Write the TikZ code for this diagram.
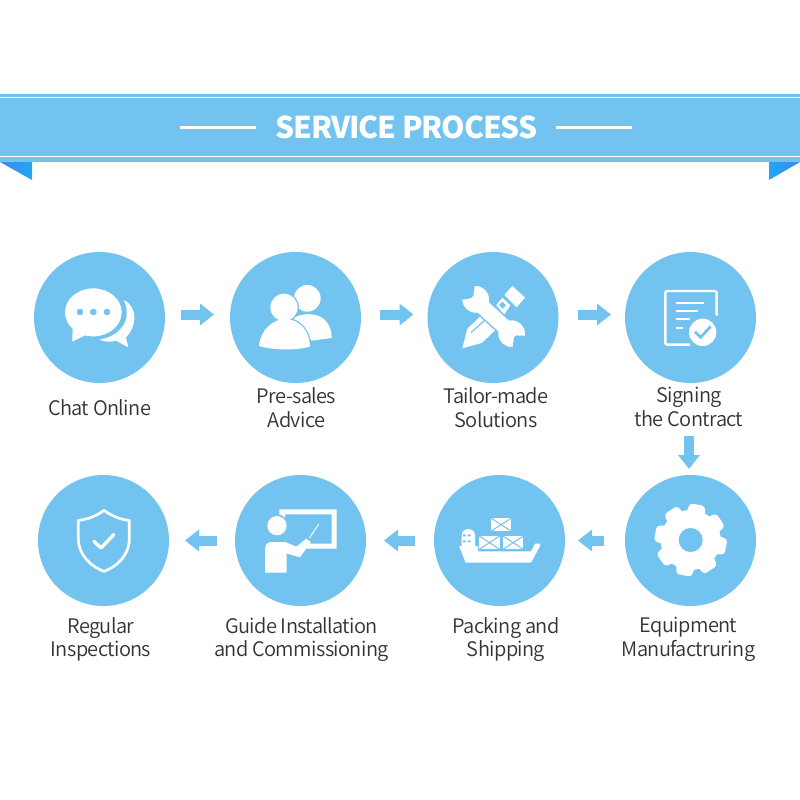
\documentclass[tikz,border=0pt]{standalone}
\usepackage{fontspec}
\setmainfont[LetterSpace=-3.8]{Noto Sans CJK SC}
\newfontfamily\lightface[LetterSpace=-3]{Noto Sans CJK SC DemiLight}
\usetikzlibrary{arrows.meta}
\definecolor{sky}{HTML}{72C3EF}
\definecolor{ink}{HTML}{333333}
\definecolor{ribbonA}{HTML}{3F86EE}
\definecolor{ribbonB}{HTML}{1FA8F5}
\tikzset{
  disc/.style={circle,fill=sky,minimum size=131pt,inner sep=0pt,outer sep=0pt},
  lab/.style={align=center,text=ink,inner sep=0pt,font=\lightface\fontsize{20}{23.5}\selectfont},
  flow/.style={draw=sky,line width=10pt,-{Triangle[length=14pt,width=21pt]}},
  zA/.style={shift={(30,250)},x=0.33333pt,y=-0.33333pt},
  zB/.style={shift={(425,250)},x=0.33333pt,y=-0.33333pt},
  zC/.style={shift={(30,472)},x=0.33333pt,y=-0.33333pt},
  zD/.style={shift={(425,472)},x=0.33333pt,y=-0.33333pt},
}
\begin{document}
\begin{tikzpicture}[x=1pt,y=-1pt]
\useasboundingbox (0,0) rectangle (800,800);
\fill[white] (0,0) rectangle (800,800);
% banner
\fill[sky] (0,94) rectangle (800,162);
\fill[white] (0,97) rectangle (800,98);
\fill[white] (0,156) rectangle (800,157);
\shade[left color=ribbonA,right color=ribbonB] (0,162) -- (32,162) -- (32,180) -- cycle;
\shade[right color=ribbonA,left color=ribbonB] (800,162) -- (769,162) -- (769,180) -- cycle;
\node[text=white,inner sep=0pt,font=\fontsize{30}{36}\bfseries\selectfont] (title) at (406.5,127) {SERVICE PROCESS};
\fill[white] (180,126) rectangle (256,128.5);
\fill[white] (556,126) rectangle (632,128.5);
% discs
\node[disc] (c1) at (99.5,317.5) {};
\node[disc] (c2) at (295.5,317.5) {};
\node[disc] (c3) at (493,317.5) {};
\node[disc] (c4) at (690.5,317.5) {};
\node[disc] (c5) at (690.5,540.5) {};
\node[disc] (c6) at (499.5,540.5) {};
\node[disc] (c7) at (300.5,540.5) {};
\node[disc] (c8) at (103.5,540.5) {};
% labels
\node[lab] (l1) at (99.5,408) {Chat Online};
\node[lab] (l2) at (296.5,407.5) {Pre-sales\\Advice};
\node[lab] (l3) at (496,407.5) {Tailor-made\\Solutions};
\node[lab] (l4) at (689,407) {Signing\\the Contract};
\node[lab] (l5) at (688.5,639.5) {Equipment\\Manufactruring};
\node[lab] (l6) at (506,639.5) {Packing and\\Shipping};
\node[lab] (l7) at (301.5,639.5) {Guide Installation\\and Commissioning};
\node[lab] (l8) at (101,639.5) {Regular\\Inspections};
% arrows
\draw[flow,shorten <=16pt,shorten >=16pt] ([yshift=3pt]c1.east) -- ([yshift=3pt]c2.west);
\draw[flow,shorten <=19pt,shorten >=14pt] ([yshift=3pt]c2.east) -- ([yshift=3pt]c3.west);
\draw[flow,shorten <=19pt,shorten >=14pt] ([yshift=3pt]c3.east) -- ([yshift=3pt]c4.west);
\draw[flow,shorten <=53pt,shorten >=6pt] ([xshift=-1.5pt]c4.south) -- ([xshift=-1.5pt]c5.north);
\draw[flow,shorten <=21pt,shorten >=13pt] (c5) -- (c6);
\draw[flow,shorten <=19pt,shorten >=18pt] (c6) -- (c7);
\draw[flow,shorten <=18pt,shorten >=16pt] (c7) -- (c8);
% chat icon
\begin{scope}[zA]
\fill[white] (190,187) ellipse [x radius=85,y radius=72];
\fill[white] (128,225) -- (127,275) -- (165,256) -- (195,259) -- cycle;
\fill[sky] (150,186) circle[radius=10] (190,186) circle[radius=10] (231,186) circle[radius=10];
\fill[white] (281,150) .. controls (305,160) and (318,190) .. (312,215) .. controls (308,240) and (295,255) .. (288,262) -- (295,292) -- (258,272) .. controls (240,278) and (222,275) .. (209,268) .. controls (245,265) and (280,240) .. (289,205) .. controls (292,185) and (290,165) .. (281,150) -- cycle;
% people icon
\fill[white] (832,145) circle[radius=40];
\fill[white] (790,205) .. controls (810,190) and (860,185) .. (885,210) .. controls (900,225) and (905,245) .. (905,264) -- (845,272) -- cycle;
\draw[sky,line width=2.6pt] (762,172) circle[radius=41];
\draw[sky,line width=2.6pt] (687,288) .. controls (690,240) and (730,207) .. (765,207) .. controls (810,207) and (840,245) .. (840,292);
\fill[white] (762,172) circle[radius=41];
\fill[white] (687,288) .. controls (690,240) and (730,207) .. (765,207) .. controls (810,207) and (840,245) .. (840,290) .. controls (790,303) and (730,300) .. (687,288) -- cycle;
\end{scope}
% tools icon
\begin{scope}[zB]
\fill[white] (112,295) -- (127,236) -- (170,279) -- cycle;
\fill[white] (127,236) -- (195,172) -- (238,215) -- (170,279) -- cycle;
\draw[sky,line width=1.2pt] (138,248) -- (178,212);
\fill[white] (232,143) -- (256,166) -- (237,195) -- (214,165) -- cycle;
\fill[white] (262,108) -- (300,143) -- (275,172) -- (238,135) -- cycle;
\fill[sky] (222,165) -- (232,155) -- (243,166) -- (233,176) -- cycle;
\draw[sky,line width=18pt] (148,148) -- (262,252);
\fill[sky] (152,148) circle[radius=44] (260,251) circle[radius=44];
\draw[white,line width=15pt] (148,148) -- (262,252);
\fill[white] (152,148) circle[radius=40] (260,251) circle[radius=40];
\fill[sky,rounded corners=2pt] (144,143) -- (150,100) -- (100,100) -- (110,150) -- cycle;
\fill[sky,rounded corners=2pt] (268,256) -- (310,258) -- (312,305) -- (262,298) -- cycle;
% contract icon
\draw[white,line width=2.4pt,rounded corners=2pt] (875,197) -- (875,123) -- (721,123) -- (721,284) -- (795,284);
\draw[white,line width=2pt] (752,158) -- (838,158) (752,183) -- (820,183) (752,208) -- (795,208) (752,233) -- (775,233);
\fill[white] (833,247) circle[radius=41];
\draw[sky,line width=2.7pt] (810,245) -- (827,262) -- (857,229);
\end{scope}
% shield and teacher icons
\begin{scope}[zC]
\draw[white,line width=2.7pt,line join=round] (222,115) .. controls (200,132) and (170,143) .. (145,145) -- (145,200) .. controls (145,250) and (185,285) .. (222,298) .. controls (260,285) and (298,250) .. (298,200) -- (298,145) .. controls (272,143) and (245,132) .. (222,115) -- cycle;
\draw[white,line width=3.4pt,line cap=round,line join=round] (192,208) -- (213,228) -- (251,188);
\fill[white] (748,112) -- (920,112) -- (920,230) -- (830,230) -- (830,215) -- (905,215) -- (905,127) -- (765,127) -- (765,145) -- (748,145) -- cycle;
\fill[sky] (741,161) circle[radius=34];
\fill[white] (741,161) circle[radius=29];
\fill[white] (705,302) -- (705,232) .. controls (705,218) and (712,210) .. (725,210) -- (770,210) -- (770,302) -- cycle;
\fill[white] (765,210) -- (800,224) -- (828,200) -- (843,210) -- (810,256) -- (765,243) -- cycle;
\draw[white,line width=1pt] (838,198) -- (866,157) (795,225) -- (812,222);
\end{scope}
% ship and gear icons
\begin{scope}[zD]
\fill[white] (102,222) -- (158,222) -- (160,238) -- (318,238) -- (330,215) -- (345,215) -- (345,222) -- (318,272) -- (122,272) -- cycle;
\fill[white] (110,224) -- (110,190) .. controls (110,165) and (150,165) .. (150,190) -- (150,224) -- cycle;
\fill[sky] (114,187) rectangle (122,193) (129,187) rectangle (137,193) (114,205) rectangle (122,211) (129,205) rectangle (137,211);
\foreach \xa/\ya in {198/138,163/192,234/192}{
  \fill[white] (\xa,\ya) rectangle +(61,40);
  \draw[sky,line width=1pt] (\xa,\ya) -- +(61,40) (\xa,\ya+40) -- +(61,-40);
}
\fill[white] (797,204) circle[radius=90];
\foreach \a in {79,34,-11,-56,-101,-146,169,124}{
  \fill[white,rounded corners=3pt,shift={(797,204)},rotate=\a] (60,-32) -- (108,-23) -- (108,23) -- (60,32) -- cycle;
}
\fill[sky] (797,204) circle[radius=36];
\end{scope}
\end{tikzpicture}
\end{document}
